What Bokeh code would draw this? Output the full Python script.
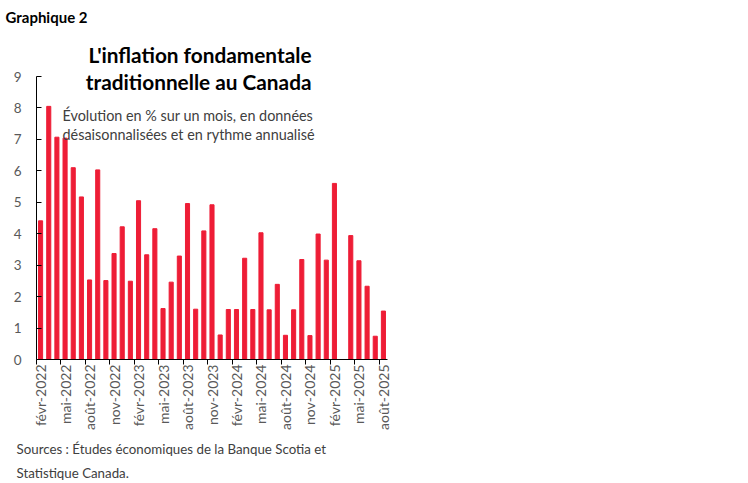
import math
from bokeh.plotting import figure
from bokeh.models import Range1d, FixedTicker, Label, Title
from bokeh.embed import file_html
from bokeh.resources import INLINE

# données : inflation fondamentale, févr-2022 à août-2025 (mensuel)
valeurs = [
    4.41, 8.05, 7.07, 7.04, 6.10, 5.17, 2.53, 6.03, 2.51, 3.37, 4.22,
    2.49, 5.05, 3.33, 4.16, 1.62, 2.46, 3.29, 4.96, 1.60, 4.09, 4.92, 0.78,
    1.59, 1.59, 3.22, 1.59, 4.03, 1.58, 2.39, 0.77, 1.58, 3.18, 0.76, 3.99,
    3.16, 5.60, 0.00, 3.94, 3.14, 2.33, 0.74, 1.54,
]
etiquettes = [
    "févr-2022", "mai-2022", "août-2022", "nov-2022",
    "févr-2023", "mai-2023", "août-2023", "nov-2023",
    "févr-2024", "mai-2024", "août-2024", "nov-2024",
    "févr-2025", "mai-2025", "août-2025",
]
y_ticks = [0, 1, 2, 3, 4, 5, 6, 7, 8, 9]

n = len(valeurs)
x = list(range(n))

ROUGE = "#EE1D36"
GRIS = "#595959"
FONT = "Lato"

# cadre : gauche 36, haut 30, bas 359 (y=0), 9 à 76 px
TOP = 30
px_par_unite = (359 - 76) / 9
y_max = 9 + (76 - TOP) / px_par_unite

p = figure(frame_width=351, frame_height=359 - TOP, output_backend="svg",
           toolbar_location=None,
           x_range=Range1d(-0.5, n - 0.5), y_range=Range1d(0, y_max),
           min_border_left=36, min_border_top=TOP, min_border_bottom=0,
           min_border_right=340)
p.outline_line_color = None
p.grid.visible = False

p.vbar(x=x, top=valeurs, width=0.5, color=ROUGE)

# axe x : étiquettes tous les 3 mois, marques entre les catégories
xa = p.xaxis[0]
xa.ticker = FixedTicker(ticks=x[::3], minor_ticks=[i - 0.5 for i in x[::3]])
xa.major_label_overrides = {i: lab for i, lab in zip(x[::3], etiquettes)}
xa.major_label_orientation = math.pi / 2
xa.major_tick_out = 0
xa.major_tick_in = 0
xa.minor_tick_out = 5
xa.minor_tick_in = 0
xa.minor_tick_line_color = "black"
xa.axis_line_color = "black"
xa.major_label_text_color = GRIS
xa.major_label_text_font = FONT
xa.major_label_text_font_size = "14px"
xa.major_label_standoff = 0

ya = p.yaxis[0]
ya.ticker = FixedTicker(ticks=y_ticks)
ya.bounds = (0, 9)
ya.major_tick_in = 5
ya.major_tick_out = 0
ya.minor_tick_line_color = None
ya.axis_line_color = "black"
ya.major_tick_line_color = "black"
ya.major_label_text_color = GRIS
ya.major_label_text_font = FONT
ya.major_label_text_font_size = "13.5px"
ya.major_label_standoff = 15

# titres hors du cadre
p.add_layout(Title(text="Graphique 2", align="left", offset=-31, standoff=10,
                   text_font=FONT, text_font_size="15px", text_font_style="bold",
                   text_color="black"), "above")
for i, ligne in enumerate(["Sources : Études économiques de la Banque Scotia et",
                           "Statistique Canada."]):
    p.add_layout(Title(text=ligne, align="left", offset=-20,
                       standoff=12 if i == 0 else 0,
                       text_font=FONT, text_font_size="13.3px",
                       text_font_style="normal", text_color="#404040"), "below")

# textes dans le cadre (positions écran relatives au cadre)
def txt(s, px, py, size, color="black", style="normal", align="left"):
    p.add_layout(Label(x=px - 36, y=359 - py, x_units="screen", y_units="screen",
                       text=s, text_font=FONT, text_font_size=size,
                       text_color=color, text_font_style=style,
                       text_align=align, text_baseline="alphabetic"))

txt("L'inflation fondamentale", 311, 54, "20.8px", style="bold", align="right")
txt("traditionnelle au Canada", 311, 80.5, "20.8px", style="bold", align="right")
txt("Évolution en % sur un mois, en données", 62, 114.5, "14.4px", color="#404040")
txt("désaisonnalisées et en rythme annualisé", 62, 133.5, "14.4px", color="#404040")

open("out.html", "w").write(file_html(p, INLINE))
